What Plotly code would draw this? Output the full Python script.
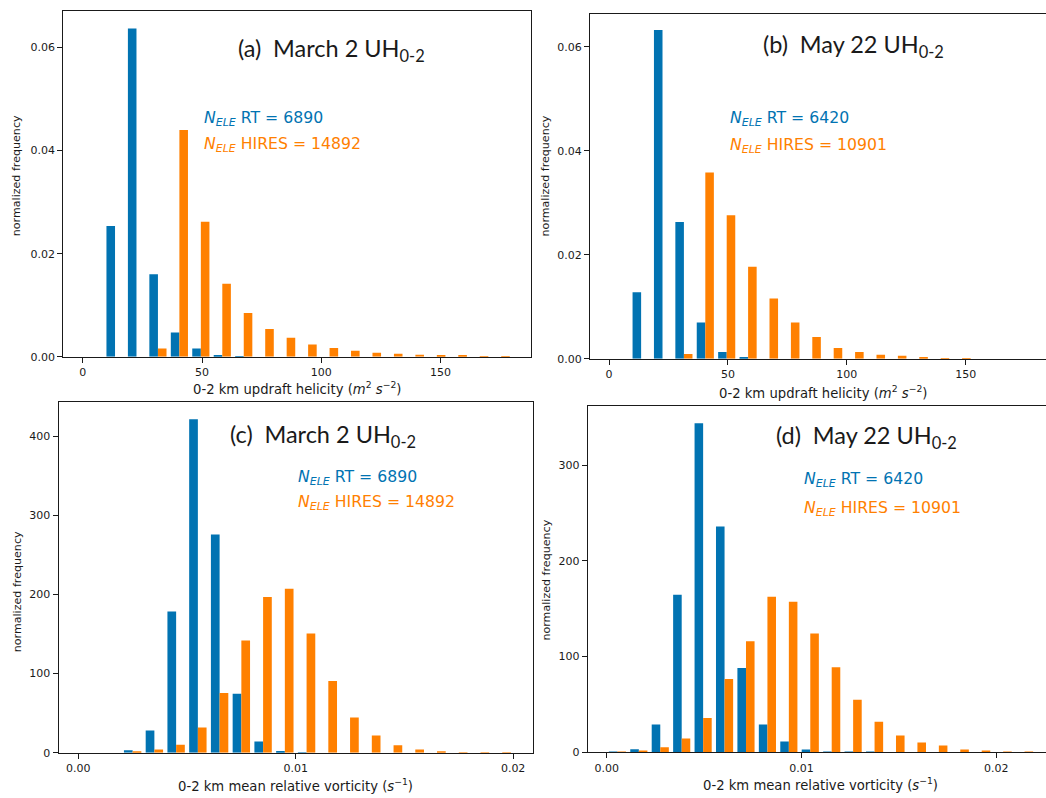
import plotly.graph_objects as go

W, H = 1046, 798

BLUE = "#0173B2"
ORANGE = "#FF8000"
INK = "#1a1a1a"

# ---- histogram bins (20 equal bins per panel) ----
N_BINS = 20
UH_BIN = 9.0            # m2 s-2
VORT_BIN_MAR = 0.001    # s-1
VORT_BIN_MAY = 0.0011   # s-1

# ---- (a) March 2, 0-2 km updraft helicity ----
uh_mar_rt = [0, 0.0254, 0.0637, 0.0160, 0.0047, 0.0016, 0.0002, 0.0001, 0, 0,
             0, 0, 0, 0, 0, 0, 0, 0, 0, 0]
uh_mar_hires = [0, 0, 0, 0.0016, 0.0440, 0.0262, 0.0142, 0.0085, 0.0054, 0.0037,
                0.0024, 0.0017, 0.0012, 0.0008, 0.0006, 0.0004, 0.0002, 0.0002, 0.0001, 0.00005]

# ---- (b) May 22, 0-2 km updraft helicity ----
uh_may_rt = [0, 0.0128, 0.0632, 0.0263, 0.0070, 0.0013, 0.0002, 0, 0, 0,
             0, 0, 0, 0, 0, 0, 0, 0, 0, 0]
uh_may_hires = [0, 0, 0, 0.00095, 0.0358, 0.0276, 0.0177, 0.0116, 0.0070, 0.0042,
                0.0021, 0.0013, 0.0008, 0.0006, 0.0002, 0.0001, 0.00005, 0, 0, 0]

# ---- (c) March 2, 0-2 km mean relative vorticity ----
vort_mar_rt = [0, 0, 3, 28, 178.5, 421.7, 276, 74.4, 14.2, 2,
               0.3, 0, 0, 0, 0, 0, 0, 0, 0, 0]
vort_mar_hires = [0, 0, 1.5, 4, 10, 31.7, 75.6, 142, 197, 207.3,
                  150.8, 90.7, 44.3, 21.7, 9.2, 4, 1.7, 0.3, 0.2, 0.1]

# ---- (d) May 22, 0-2 km mean relative vorticity ----
vort_may_rt = [0.5, 3.1, 29, 164.6, 343.7, 236, 88, 29, 11.4, 3,
               0.5, 0.3, 0.3, 0, 0, 0, 0, 0, 0, 0]
vort_may_hires = [0.5, 2, 5.2, 14.5, 36, 76.6, 116, 162.5, 157.4, 124.2,
                  89, 55, 32, 17.6, 10.4, 7.2, 3, 2, 0.7, 0.5]

panels = [
    # key, bin width, rt, hires, label, N_rt, N_hires
    ("a", UH_BIN, uh_mar_rt, uh_mar_hires, "(a)\u2002March 2 UH<sub>0-2</sub>", 6890, 14892),
    ("b", UH_BIN, uh_may_rt, uh_may_hires, "(b)\u2002May 22 UH<sub>0-2</sub>", 6420, 10901),
    ("c", VORT_BIN_MAR, vort_mar_rt, vort_mar_hires, "(c)\u2002March 2 UH<sub>0-2</sub>", 6890, 14892),
    ("d", VORT_BIN_MAY, vort_may_rt, vort_may_hires, "(d)\u2002May 22 UH<sub>0-2</sub>", 6420, 10901),
]


def px_x(p):
    return p / W


def px_y(p):
    return 1 - p / H


# axes geometry in pixels: left, right, top, bottom; data ranges
geom = {
    "a": dict(l=63.3, r=531.0, t=11.0, b=360.0, xr=[-8.2, 188.0], yr=[0, 0.0671],
              xt=[0, 50, 100, 150], xtt=["0", "50", "100", "150"],
              yt=[0, 0.02, 0.04, 0.06], ytt=["0.00", "0.02", "0.04", "0.06"], right=True),
    "b": dict(l=590.0, r=1046.0, t=14.0, b=362.0, xr=[-8.0, 183.8], yr=[0, 0.0663],
              xt=[0, 50, 100, 150], xtt=["0", "50", "100", "150"],
              yt=[0, 0.02, 0.04, 0.06], ytt=["0.00", "0.02", "0.04", "0.06"], right=False),
    "c": dict(l=58.5, r=532.7, t=405.7, b=759.3, xr=[-0.00091, 0.0209], yr=[0, 443.4],
              xt=[0, 0.01, 0.02], xtt=["0.00", "0.01", "0.02"],
              yt=[0, 100, 200, 300, 400], ytt=["0", "100", "200", "300", "400"], right=True),
    "d": dict(l=587.7, r=1046.0, t=410.0, b=759.0, xr=[-0.000975, 0.02255], yr=[0, 361.4],
              xt=[0, 0.01, 0.02], xtt=["0.00", "0.01", "0.02"],
              yt=[0, 100, 200, 300], ytt=["0", "100", "200", "300"], right=False),
}

tick_font = dict(family="DejaVu Sans", size=11, color=INK)

fig = go.Figure()
layout = {}
for i, (key, bw, rt, hires, label, n_rt, n_hi) in enumerate(panels):
    sfx = "" if i == 0 else str(i + 1)
    g = geom[key]
    centers = [(k + 0.5) * bw for k in range(N_BINS)]
    for vals, col in ((rt, BLUE), (hires, ORANGE)):
        fig.add_trace(go.Bar(x=centers, y=vals, marker=dict(color=col, line=dict(width=0)),
                             xaxis="x" + sfx, yaxis="y" + sfx, showlegend=False,
                             hoverinfo="skip"))
    layout["xaxis" + sfx] = dict(
        domain=[px_x(g["l"]), px_x(g["r"])], range=g["xr"], anchor="y" + sfx,
        tickvals=g["xt"], ticktext=g["xtt"], ticks="outside", ticklen=5, tickwidth=1,
        tickcolor=INK, showline=True, linecolor=INK, linewidth=1, mirror=True,
        showgrid=False, zeroline=False, tickfont=tick_font)
    layout["yaxis" + sfx] = dict(
        domain=[px_y(g["b"]), px_y(g["t"])], range=g["yr"], anchor="x" + sfx,
        tickvals=g["yt"], ticktext=g["ytt"], ticks="outside", ticklen=5, tickwidth=1,
        tickcolor=INK, showline=True, linecolor=INK, linewidth=1, mirror=g["right"],
        showgrid=False, zeroline=False, tickfont=tick_font)

ann = []


def add_text(x, y, text, size, color=INK, family="DejaVu Sans", xanchor="left",
             yanchor="middle", angle=0):
    ann.append(dict(x=px_x(x), y=px_y(y), xref="paper", yref="paper", text=text,
                    showarrow=False, xanchor=xanchor, yanchor=yanchor, textangle=angle,
                    font=dict(family=family, size=size, color=color)))


# panel titles
title_pos = {"a": (235.7, 50), "b": (761.0, 46), "c": (228.3, 440), "d": (774.3, 441)}
# sample-size labels
n_pos = {"a": (202.0, 120.0, 146.0), "b": (728.3, 120.0, 146.5),
         "c": (295.7, 482.2, 506.7), "d": (801.7, 483.3, 512.7)}
for key, bw, rt, hires, label, n_rt, n_hi in panels:
    tx, ty = title_pos[key]
    add_text(tx, ty, label, 23.5, family="Lato")
    nx, ny1, ny2 = n_pos[key]
    add_text(nx, ny1, f"<i>N</i><sub><i>ELE</i></sub> RT = {n_rt}", 15.7, color=BLUE)
    add_text(nx, ny2, f"<i>N</i><sub><i>ELE</i></sub> HIRES = {n_hi}", 15.7, color=ORANGE)

# axis titles
uh_label = "0-2 km updraft helicity (<i>m</i><sup>2</sup> <i>s</i><sup>\u22122</sup>)"
vort_label = "0-2 km mean relative vorticity (<i>s</i><sup>\u22121</sup>)"
add_text(296.8, 391.7, uh_label, 13.2, xanchor="center")
add_text(823.0, 395.0, uh_label, 13.2, xanchor="center")
add_text(295.0, 791.7, vort_label, 13.2, xanchor="center")
add_text(820.0, 790.7, vort_label, 13.2, xanchor="center")
for x, y in ((17.3, 177.5), (545.0, 178.0), (17.8, 596.7), (546.7, 585.0)):
    add_text(x, y, "normalized frequency", 11.1, xanchor="center", angle=-90)

fig.update_layout(
    width=W, height=H, margin=dict(l=0, r=0, t=0, b=0),
    paper_bgcolor="white", plot_bgcolor="white",
    barmode="group", bargap=0.2, bargroupgap=0,
    annotations=ann, **layout)

fig.write_html("out.html")
